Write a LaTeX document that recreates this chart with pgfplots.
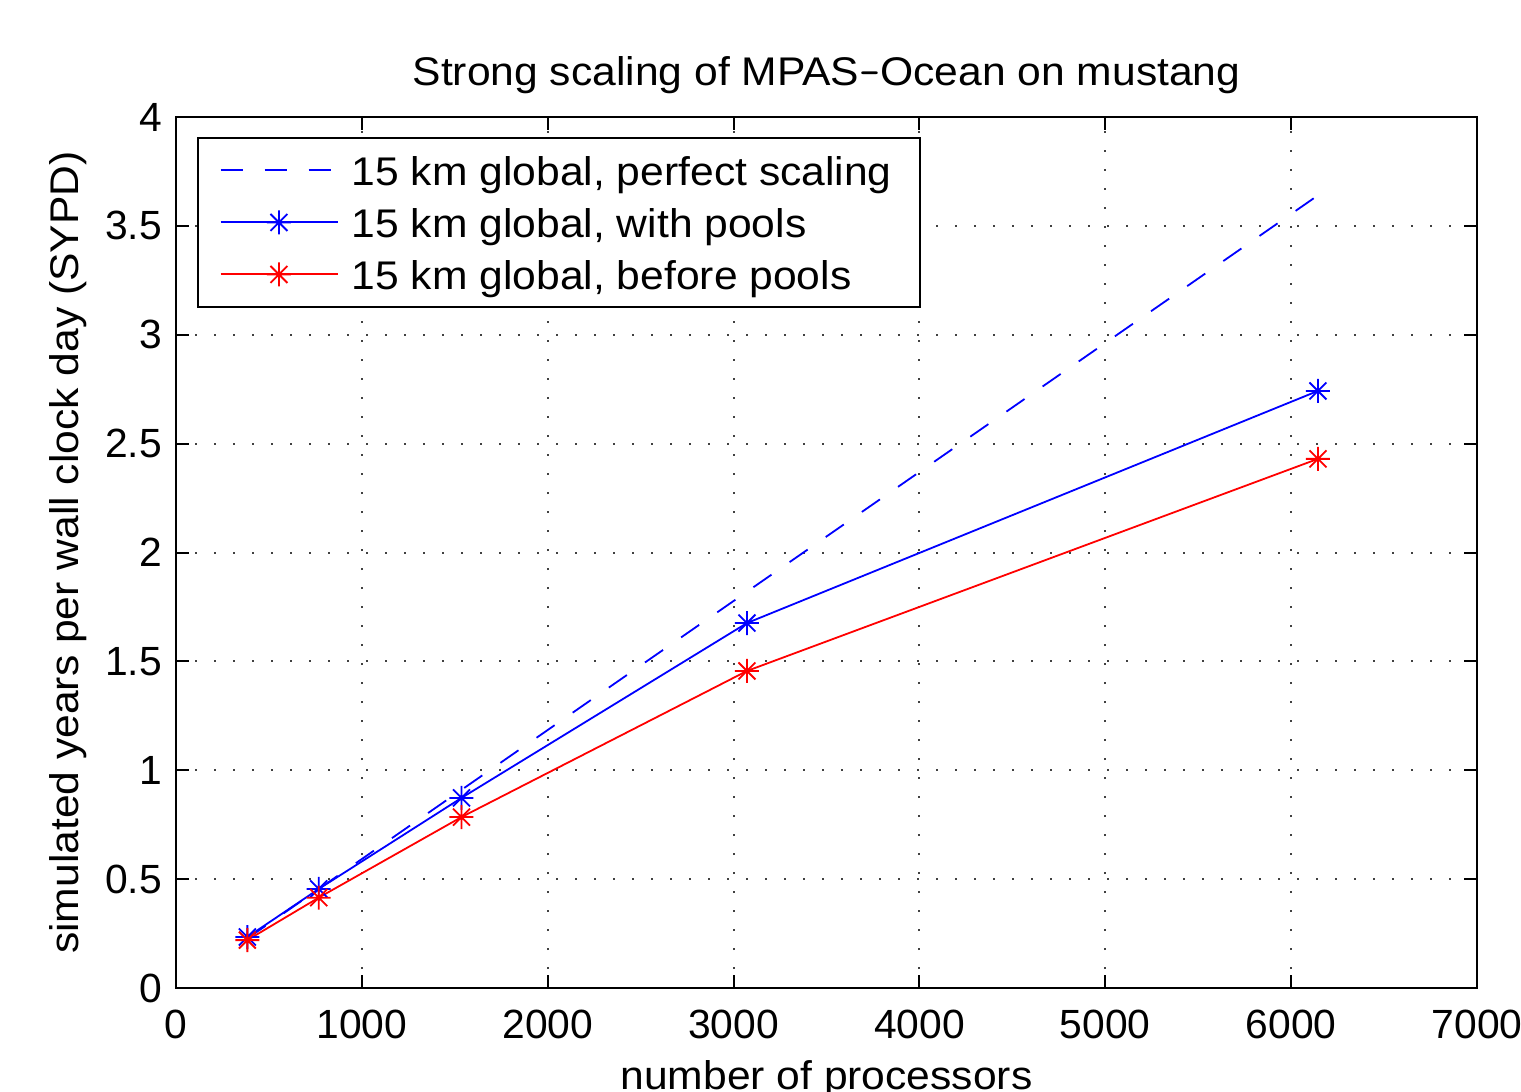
\documentclass[border=0pt]{standalone}
\usepackage{fontspec}
\setmainfont[FakeStretch=1.065]{Liberation Sans}
\newfontfamily\tickfont{Liberation Sans}
\usepackage{pgfplots}
\pgfplotsset{compat=1.18}
\usetikzlibrary{calc}
\pgfdeclareplotmark{mstar}{%
 \pgfpathmoveto{\pgfqpoint{-\pgfplotmarksize}{0pt}}\pgfpathlineto{\pgfqpoint{\pgfplotmarksize}{0pt}}%
 \pgfpathmoveto{\pgfqpoint{0pt}{-\pgfplotmarksize}}\pgfpathlineto{\pgfqpoint{0pt}{\pgfplotmarksize}}%
 \pgfpathmoveto{\pgfqpoint{-.7071\pgfplotmarksize}{-.7071\pgfplotmarksize}}\pgfpathlineto{\pgfqpoint{.7071\pgfplotmarksize}{.7071\pgfplotmarksize}}%
 \pgfpathmoveto{\pgfqpoint{-.7071\pgfplotmarksize}{.7071\pgfplotmarksize}}\pgfpathlineto{\pgfqpoint{.7071\pgfplotmarksize}{-.7071\pgfplotmarksize}}%
 \pgfusepathqstroke}
\begin{document}
\begin{tikzpicture}
\begin{axis}[name=ax,
  scale only axis, width=325.25pt, height=217.75pt,
  xmin=0, xmax=7000, ymin=0, ymax=4,
  xtick={0,1000,2000,3000,4000,5000,6000,7000},
  ytick={0,0.5,1,1.5,2,2.5,3,3.5,4},
  scaled ticks=false,
  /pgf/number format/1000 sep={},
  /pgf/number format/assume math mode=true,
  tick label style={font=\tickfont\fontsize{10.2}{12}\selectfont},
  xticklabel style={yshift=-2pt},
  tick align=inside, major tick length=3.3pt,
  tick style={black, line width=0.5pt},
  axis line style={black, line width=0.5pt},
  grid=major,
  major grid style={black!75, line width=0.5pt, dash pattern=on 0.5pt off 4.25pt},
  title={Strong scaling of MPAS\texttt{-}Ocean on mustang},
  title style={font=\fontsize{10}{12}\selectfont, at={(axis description cs:0.5,1.0367)}, anchor=base, yshift=-6pt},
  xlabel={number of processors},
  xlabel style={font=\fontsize{10}{12}\selectfont, at={(axis description cs:0.5,-0.116)}, anchor=base},
  ylabel={simulated years per wall clock day (SYPD)},
  ylabel style={font=\fontsize{10}{12}\selectfont, at={(axis description cs:-0.0753,0.5)}, anchor=base},
  legend image code/.code={\draw[mark repeat=2,mark phase=2,#1] plot coordinates {(0pt,0pt) (14.6pt,0pt) (29.25pt,0pt)};},
  legend style={at={(0,1)}, anchor=north west, xshift=5.25pt, yshift=-5pt,
    draw=black, line width=0.5pt, font=\fontsize{10}{12}\selectfont,
    inner xsep=5.4pt, inner ysep=1.6pt, row sep=0pt, column sep=1.75pt,
    nodes={inner xsep=1.6pt, inner ysep=1.75pt, text height=8.55pt, text depth=0.95pt},
    cells={anchor=west}},
]
\addplot[blue, line width=0.45pt, dash pattern=on 5.5pt off 5.5pt] coordinates {
 (384,0.2275) (768,0.455) (1536,0.91) (3072,1.82) (6144,3.64)};
\addlegendentry{15 km global, perfect scaling}
\addplot[blue, line width=0.45pt, mark=mstar, mark size=3pt, mark options={solid}] coordinates {
 (384,0.234) (768,0.455) (1536,0.873) (3072,1.676) (6144,2.742)};
\addlegendentry{15 km global, with pools}
\addplot[red, line width=0.45pt, mark=mstar, mark size=3pt, mark options={solid}] coordinates {
 (384,0.22) (768,0.415) (1536,0.785) (3072,1.456) (6144,2.43)};
\addlegendentry{15 km global, before pools}
\end{axis}
\pgfresetboundingbox
\path[use as bounding box] ($(ax.south west)+(-44pt,-25.75pt)$) rectangle ($(ax.north east)+(11pt,29.25pt)$);
\end{tikzpicture}
\end{document}
